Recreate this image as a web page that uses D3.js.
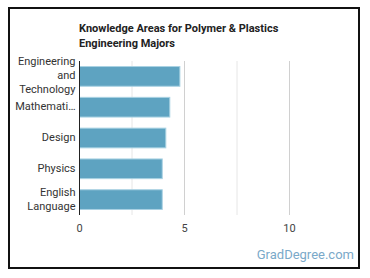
<!DOCTYPE html>
<html lang="en">
<head>
<meta charset="UTF-8">
<title>Knowledge Areas for Polymer & Plastics Engineering Majors</title>
<style>
    body { margin: 0; background: #fff; }
    #frame {
        position: absolute;
        left: 8px; top: 7px;
        width: 348px; height: 258px;
        border: 2px solid #111;
    }
    svg { position: absolute; left: 0; top: 0; }
    text { font-family: Roboto, "Noto Sans", sans-serif; }
</style>
</head>
<body>
<div id="frame"></div>
<svg id="chart" width="370" height="278"></svg>
<script src="https://d3js.org/d3.v7.min.js"></script>
<script>
    const categories = ["Engineering and Technology", "Mathematics", "Design", "Physics", "English Language"];
    const shownLabels = [["Engineering", "and", "Technology"], ["Mathemati\u2026"], ["Design"], ["Physics"], ["English", "Language"]];
    const values = [4.78, 4.30, 4.11, 3.94, 3.94];
    const ticks = [0, 5, 10];

    let margin = {left: 79.5, top: 61, right: 28, bottom: 63};
    let width = 370 - margin.left - margin.right;
    let height = 278 - margin.top - margin.bottom;

    const svg = d3.select("#chart");

    svg.append("text")
        .attr("x", 79)
        .attr("y", 32)
        .attr("font-size", "11px")
        .attr("font-weight", "bold")
        .attr("fill", "#222")
        .selectAll("tspan")
        .data(["Knowledge Areas for Polymer & Plastics", "Engineering Majors"])
        .join("tspan")
        .attr("x", 79)
        .attr("dy", (d, i) => i === 0 ? 0 : 15)
        .text(d => d);

    let xScale = d3.scaleLinear().domain([0, 12.5]).range([0, width]);
    let yScale = d3.scaleBand().domain(categories).range([0, height]).paddingInner(0.36).paddingOuter(0.18);

    const g = svg.append("g").attr("transform", `translate(${margin.left}, ${margin.top})`);

    // grid lines
    g.selectAll("line.grid")
        .data(d3.range(2.5, 12.5, 2.5))
        .join("line")
        .attr("class", "grid")
        .attr("x1", d => xScale(d))
        .attr("x2", d => xScale(d))
        .attr("y1", 0)
        .attr("y2", height)
        .attr("stroke", d => d % 5 === 0 ? "#d0d0d0" : "#e6e6e6")
        .attr("stroke-width", 1);

    g.selectAll("rect")
        .data(values)
        .join("rect")
        .attr("x", 0)
        .attr("y", (d, i) => yScale(categories[i]))
        .attr("width", d => xScale(d))
        .attr("height", yScale.bandwidth())
        .attr("fill", "#5ea3c1")
        .attr("stroke", "#a9d2e3")
        .attr("stroke-width", 1);

    // y axis line
    g.append("line")
        .attr("x1", 0).attr("x2", 0)
        .attr("y1", 0).attr("y2", height)
        .attr("stroke", "#222")
        .attr("stroke-width", 1);

    // y labels
    g.selectAll("text.ylabel")
        .data(shownLabels)
        .join("text")
        .attr("class", "ylabel")
        .attr("text-anchor", "end")
        .attr("font-size", "11px")
        .attr("fill", "#333")
        .each(function (lines, i) {
            const cy = yScale(categories[i]) + yScale.bandwidth() / 2;
            const lh = 14;
            const start = cy - (lines.length - 1) * lh / 2;
            d3.select(this).selectAll("tspan")
                .data(lines)
                .join("tspan")
                .attr("x", -4)
                .attr("y", (d, j) => start + j * lh)
                .attr("dominant-baseline", "middle")
                .text(d => d);
        });

    // x ticks
    g.selectAll("text.xtick")
        .data(ticks)
        .join("text")
        .attr("class", "xtick")
        .attr("x", d => xScale(d))
        .attr("y", height + 17)
        .attr("text-anchor", "middle")
        .attr("font-size", "11px")
        .attr("fill", "#444")
        .text(d => d);

    svg.append("text")
        .attr("x", 354)
        .attr("y", 259)
        .attr("text-anchor", "end")
        .attr("font-size", "13px")
        .attr("fill", "#7aa9c9")
        .text("GradDegree.com");
</script>
</body>
</html>
